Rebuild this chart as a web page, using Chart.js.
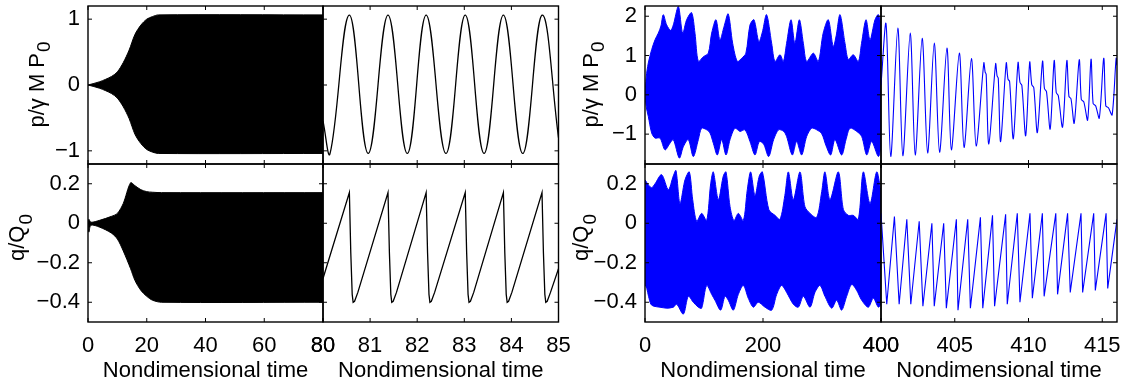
<!DOCTYPE html>
<html>
<head>
<meta charset="utf-8">
<script src="https://cdn.jsdelivr.net/npm/chart.js@4.4.1/dist/chart.umd.min.js"></script>
<style>
  body { margin: 0; background: #fff; }
  #wrap { position: relative; width: 1123px; height: 382px; overflow: hidden; }
  #wrap canvas { position: absolute; left: 0; top: -30px; }
</style>
</head>
<body>
<div id="wrap">
  <canvas id="c1" width="1183" height="412"></canvas>
  <canvas id="c2" width="1183" height="412"></canvas>
  <canvas id="c3" width="1183" height="412"></canvas>
  <canvas id="c4" width="1183" height="412"></canvas>
  <canvas id="c5" width="1183" height="412"></canvas>
  <canvas id="c6" width="1183" height="412"></canvas>
  <canvas id="c7" width="1183" height="412"></canvas>
  <canvas id="c8" width="1183" height="412"></canvas>
</div>
<script>
// --- left figure: envelope of the dense black oscillation, 0..80 ---
const pEnvT = [0, 4, 8, 10, 12, 14, 16, 18, 20, 22, 24, 80];
const pEnvUp = [0, 0.05, 0.13, 0.2, 0.34, 0.53, 0.77, 0.91, 1.0, 1.04, 1.065, 1.065];
const pEnvLo = [0, -0.05, -0.13, -0.2, -0.33, -0.51, -0.75, -0.89, -0.98, -1.02, -1.04, -1.04];

const qEnvT = [0, 0.3, 1, 4, 8, 10, 12, 14.5, 16, 18, 20, 22, 25, 80];
const qEnvUp = [0, 0.02, 0.005, 0.015, 0.035, 0.05, 0.10, 0.205, 0.19, 0.17, 0.16, 0.157, 0.155, 0.155];
const qEnvLo = [0, -0.045, -0.01, -0.02, -0.05, -0.08, -0.14, -0.23, -0.29, -0.34, -0.37, -0.39, -0.40, -0.40];

// --- left figure: zoom 80..85 ---
const pZoomT = [80.00, 80.15, 80.56, 80.96, 81.38, 81.79, 82.19, 82.61, 83.02, 83.42, 83.83, 84.24, 84.65, 85.00];
const pZoomV = [-0.55, -1.04, 1.06, -1.04, 1.06, -1.04, 1.06, -1.04, 1.06, -1.04, 1.06, -1.04, 1.06, -0.80];

const qZoomT = [80.00, 80.56, 80.59, 80.62, 80.64, 80.67, 80.74,
  81.38, 81.41, 81.44, 81.46, 81.49, 81.56,
  82.19, 82.22, 82.25, 82.27, 82.30, 82.37,
  83.02, 83.05, 83.08, 83.10, 83.13, 83.20,
  83.83, 83.86, 83.89, 83.91, 83.94, 84.01,
  84.65, 84.68, 84.71, 84.73, 84.76, 84.83, 85.00];
const qZoomV = [-0.28, 0.155, -0.15, -0.36, -0.40, -0.395, -0.35,
  0.155, -0.15, -0.36, -0.40, -0.395, -0.35,
  0.155, -0.15, -0.36, -0.40, -0.395, -0.35,
  0.155, -0.15, -0.36, -0.40, -0.395, -0.35,
  0.155, -0.15, -0.36, -0.40, -0.395, -0.35,
  0.155, -0.15, -0.36, -0.40, -0.395, -0.35, -0.23];

// --- right figure: envelopes of the dense blue oscillation, 0..400 ---
const bpUpT = [0, 2, 5.6, 11.3, 17, 22.6, 27, 31, 36.7, 43.5, 48, 56.5, 63.8, 70.6, 79, 84.7, 90.4, 98.9, 107.3, 113,
  120.3, 127, 134, 141, 148.6, 156.5, 163.8, 171, 178, 184.7, 193, 199, 206, 214.7, 220.3, 228.8, 234.5, 240, 247.5, 254,
  261.6, 268.4, 274, 285.3, 293.8, 302, 310.7, 319, 324, 330.5, 339, 344.6, 353, 361.6, 367, 374.6, 381.4, 389.8, 395.5, 400];
const bpUpV = [0, 0.45, 0.81, 1.15, 1.40, 1.57, 1.75, 2.04, 1.78, 1.64, 1.78, 2.25, 1.57, 1.91, 2.09, 1.57, 0.85, 0.97, 1.06, 1.57,
  1.91, 1.40, 1.74, 2.06, 1.31, 0.85, 0.93, 1.06, 1.78, 1.91, 1.35, 1.6, 2.04, 1.31, 0.85, 1.02, 0.85, 1.31, 1.91, 1.31,
  1.91, 1.31, 0.85, 1.06, 0.85, 1.57, 1.91, 1.23, 1.5, 2.04, 1.31, 0.90, 1.02, 0.85, 1.31, 1.91, 1.40, 1.91, 2.04, 1.78];
const bpLoT = [0, 2, 5.6, 11.3, 17, 25.4, 33.9, 42.4, 48, 58.2, 65, 73.4, 81.9, 90.4, 96, 104.5, 110.1, 115.8, 122.6, 130,
  137.3, 144.1, 152.5, 161, 169.5, 178, 186.4, 193.8, 201, 209.6, 218, 226.5, 235, 240, 249.7, 257, 265.5, 274, 282.5, 291,
  299.5, 307, 314.7, 322, 333.3, 340.7, 347.5, 358.8, 367.3, 375.8, 384.2, 395.5, 400];
const bpLoV = [0, -0.3, -0.55, -0.97, -1.10, -1.10, -1.40, -1.23, -1.14, -1.61, -1.32, -1.14, -1.57, -1.14, -0.85, -0.89, -0.97, -1.23, -1.53, -1.14,
  -1.53, -1.14, -0.85, -0.93, -0.89, -1.19, -1.53, -1.19, -1.25, -1.57, -1.14, -0.89, -0.93, -1.06, -1.53, -1.19, -1.53, -1.06, -0.85, -0.89,
  -0.99, -1.3, -1.53, -1.14, -1.53, -1.14, -0.85, -0.93, -1.06, -1.53, -1.19, -1.57, -1.32];

const bqUpT = [0, 5.6, 11.3, 17, 28.2, 39.5, 48, 52.5, 59.3, 67.8, 75.1, 80.8, 87.6, 96, 104.5, 111.3, 115.8, 124.3, 132.8, 137.3,
  144.1, 150.8, 158.2, 166.7, 173.4, 179.1, 186.4, 193.8, 199, 210, 220.3, 228.8, 237, 243, 251.4, 262.7, 271, 279.7, 291, 299.5,
  305, 313.6, 327.7, 336.2, 344.6, 353, 361.6, 370, 381.4, 392.7, 400];
const bqUpV = [0.22, 0.195, 0.18, 0.20, 0.246, 0.17, 0.24, 0.267, 0.10, 0.22, 0.26, 0.12, 0.01, 0.05, 0.014, 0.20, 0.26, 0.12, 0.24, 0.26,
  0.085, 0.014, 0.05, 0.014, 0.17, 0.26, 0.14, 0.24, 0.26, 0.068, 0.04, 0.02, 0.14, 0.26, 0.12, 0.26, 0.085, 0.05, 0.03, 0.16,
  0.26, 0.12, 0.26, 0.07, 0.04, 0.04, 0.02, 0.26, 0.10, 0.26, 0.16];
const bqLoT = [0, 3, 6, 10, 15, 25.4, 36.7, 48, 53.7, 65, 73.4, 81.9, 90.4, 96, 104.5, 113, 118.6, 128.2, 135.6, 141.2,
  149.7, 158.2, 166.7, 175.1, 183.6, 192, 203.4, 214.7, 223.2, 231.6, 240, 251.4, 259.9, 268.4, 279.7, 288.1, 296.6, 305, 316.4, 324.9,
  333.3, 341.8, 350.3, 358.8, 367.3, 378.5, 387, 395.5, 400];
const bqLoV = [-0.31, -0.33, -0.37, -0.41, -0.42, -0.425, -0.43, -0.425, -0.41, -0.46, -0.37, -0.40, -0.425, -0.43, -0.315, -0.36, -0.39, -0.44, -0.37, -0.39,
  -0.44, -0.36, -0.315, -0.38, -0.425, -0.40, -0.425, -0.44, -0.36, -0.315, -0.35, -0.41, -0.425, -0.37, -0.425, -0.35, -0.315, -0.37, -0.43, -0.39,
  -0.44, -0.37, -0.31, -0.34, -0.39, -0.425, -0.38, -0.425, -0.41];

// --- right figure: zoom 400..416 (later cycles get a shelf on the way down) ---
const bpZoomT = [400.00, 400.34, 400.66, 401.14, 401.48, 401.98, 402.32, 402.79, 403.16, 403.61, 403.97, 404.47, 404.77, 405.31, 405.63, 406.13, 406.45,
  406.97, 407.06, 407.13, 407.31,
  407.77, 407.87, 407.95, 408.11,
  408.49, 408.61, 408.72, 408.97,
  409.29, 409.42, 409.55, 409.81,
  410.08, 410.22, 410.36, 410.60,
  410.95, 411.08, 411.22, 411.47,
  411.74, 411.88, 412.02, 412.31,
  412.60, 412.74, 412.88, 413.10,
  413.44, 413.58, 413.75, 414.01,
  414.24, 414.38, 414.55, 414.80,
  415.10, 415.24, 415.42, 415.67,
  415.94, 416.00];
const bpZoomV = [0.25, 1.81, -1.57, 1.70, -1.55, 1.57, -1.53, 1.44, -1.48, 1.32, -1.46, 1.19, -1.40, 1.06, -1.34, 0.92, -1.30,
  0.81, 0.58, 0.52, -1.25,
  0.79, 0.48, 0.42, -1.19,
  0.81, 0.40, 0.34, -1.12,
  0.82, 0.32, 0.24, -1.04,
  0.83, 0.26, 0.18, -0.96,
  0.85, 0.16, 0.08, -0.87,
  0.87, 0.06, -0.02, -0.82,
  0.87, -0.04, -0.10, -0.72,
  0.89, -0.12, -0.18, -0.64,
  0.91, -0.22, -0.28, -0.59,
  0.93, -0.28, -0.33, -0.51,
  0.93, 0.75];

const bqZoomT = [400.00, 400.39, 400.91, 401.23, 401.75, 402.02, 402.59, 402.84, 403.45, 403.61, 404.25, 404.43, 405.11, 405.22, 405.88,
  406.06, 406.74, 406.90, 407.56, 407.70, 408.45, 408.56, 409.24, 409.42, 410.10, 410.26, 410.94, 411.06, 411.85, 411.97,
  412.65, 412.83, 413.56, 413.67, 414.42, 414.53, 415.26, 415.37, 416.0];
const bqZoomV = [0.05, -0.41, 0.034, -0.41, 0.02, -0.41, 0.01, -0.42, 0.0, -0.42, 0.0, -0.43, 0.02, -0.44, 0.02,
  -0.43, 0.03, -0.43, 0.04, -0.42, 0.045, -0.41, 0.05, -0.40, 0.05, -0.38, 0.05, -0.37, 0.05, -0.36,
  0.05, -0.35, 0.05, -0.35, 0.05, -0.34, 0.05, -0.33, 0.02];

// tick values
const tickLeftX = [0, 20, 40, 60, 80];
const tickZoomX = [80, 81, 82, 83, 84, 85];
const tickRightX = [0, 200, 400];
const tickRZoomX = [400, 405, 410, 415];
const tickPL = [-1, 0, 1];
const tickPR = [-1, 0, 1, 2];
const tickQ = [-0.4, -0.2, 0, 0.2];

const FONT = "'Liberation Sans', Arial, Helvetica, sans-serif";
const BLUE = '#0000ff';
const OFF = 30;   // canvases start 30px above the page so top labels never squeeze the plot
const CW = 1183;  // canvases are wider than the page for the same reason on the right

function pts(t, v) {
  return t.map((x, i) => ({ x: x, y: v[i] }));
}

// frame + inward ticks on all four sides, like a matlab box
const boxPlugin = {
  id: 'box',
  afterDraw(chart, args, o) {
    const ctx = chart.ctx, a = chart.chartArea;
    const sx = chart.scales.x, sy = chart.scales.y;
    ctx.save();
    ctx.strokeStyle = '#000';
    ctx.lineWidth = 1.4;
    ctx.strokeRect(a.left, a.top, a.right - a.left, a.bottom - a.top);
    ctx.lineWidth = 1;
    ctx.beginPath();
    o.xt.forEach(v => {
      const px = sx.getPixelForValue(v);
      ctx.moveTo(px, a.bottom); ctx.lineTo(px, a.bottom - 4);
      ctx.moveTo(px, a.top); ctx.lineTo(px, a.top + 4);
    });
    o.yt.forEach(v => {
      const py = sy.getPixelForValue(v);
      ctx.moveTo(a.left, py); ctx.lineTo(a.left + 4, py);
      ctx.moveTo(a.right, py); ctx.lineTo(a.right - 4, py);
    });
    ctx.stroke();
    ctx.restore();
  }
};

// rotated y label with a subscript
const ylabPlugin = {
  id: 'ylab',
  afterDraw(chart, args, o) {
    if (!o.main) return;
    const ctx = chart.ctx;
    ctx.save();
    ctx.translate(o.x, o.y + OFF);
    ctx.rotate(-Math.PI / 2);
    ctx.fillStyle = '#000';
    ctx.textBaseline = 'middle';
    ctx.font = '22px ' + FONT;
    const w1 = ctx.measureText(o.main).width;
    ctx.font = '19px ' + FONT;
    const w2 = ctx.measureText(o.sub).width;
    const s = -(w1 + w2) / 2;
    ctx.font = '22px ' + FONT;
    ctx.fillText(o.main, s, 0);
    ctx.font = '19px ' + FONT;
    ctx.fillText(o.sub, s + w1 + 1, o.dy);
    ctx.restore();
  }
};

function fmt(v) {
  return String(v).replace('-', '\u2212');
}

function panel(id, p) {
  const yW = p.yLabels ? 60 : 0;
  const xH = p.xLabels ? 60 : 0;
  const a = p.area;
  new Chart(document.getElementById(id), {
    type: 'line',
    data: { datasets: p.datasets },
    plugins: [boxPlugin, ylabPlugin],
    options: {
      responsive: false,
      animation: false,
      devicePixelRatio: 1,
      events: [],
      layout: { padding: { left: a[0] - yW, top: a[1] + OFF, right: CW - a[2], bottom: 382 - a[3] - xH } },
      elements: { point: { radius: 0 } },
      plugins: {
        legend: { display: false },
        tooltip: { enabled: false },
        box: { xt: p.xt, yt: p.yt },
        ylab: p.ylab || {}
      },
      scales: {
        x: {
          type: 'linear', min: p.xr[0], max: p.xr[1],
          display: !!p.xLabels,
          grid: { display: false, drawTicks: false },
          border: { display: false },
          afterBuildTicks: s => { s.ticks = p.xt.map(v => ({ value: v })); },
          afterFit: s => { s.height = xH; },
          ticks: { autoSkip: false, maxRotation: 0, padding: 11, color: '#000',
                   font: { family: FONT, size: 22 }, callback: v => fmt(v) },
          title: { display: true, text: 'Nondimensional time', color: '#000',
                   font: { family: FONT, size: 22, lineHeight: 1 }, padding: { top: 0, bottom: 0 } }
        },
        y: {
          type: 'linear', min: p.yr[0], max: p.yr[1],
          display: !!p.yLabels,
          grid: { display: false, drawTicks: false },
          border: { display: false },
          afterBuildTicks: s => { s.ticks = p.yt.map(v => ({ value: v })); },
          afterFit: s => { s.width = yW; },
          ticks: { padding: 8, color: '#000', font: { family: FONT, size: 22 }, callback: v => fmt(v) }
        }
      }
    }
  });
}

function band(tu, vu, tl, vl, color) {
  return [
    { data: pts(tu, vu), borderColor: color, backgroundColor: color, borderWidth: 1, fill: '+1', tension: 0.3 },
    { data: pts(tl, vl), borderColor: color, borderWidth: 1, fill: false, tension: 0.3 }
  ];
}

function curve(t, v, color, tension, width) {
  return [{ data: pts(t, v), borderColor: color, borderWidth: width, fill: false, tension: tension }];
}

// left figure
panel('c1', { area: [88, 6, 323, 164], xr: [0, 80], yr: [-1.2, 1.2], xt: tickLeftX, yt: tickPL, yLabels: true,
  ylab: { main: 'p/\u03b3 M P', sub: '0', x: 38, y: 85, dy: 7 },
  datasets: band(pEnvT, pEnvUp, pEnvT, pEnvLo, '#000') });
panel('c2', { area: [323, 6, 558.5, 164], xr: [80, 85], yr: [-1.2, 1.2], xt: tickZoomX, yt: tickPL,
  datasets: curve(pZoomT, pZoomV, '#000', 0.4, 1.3) });
panel('c3', { area: [88, 164, 323, 322], xr: [0, 80], yr: [-0.5, 0.3], xt: tickLeftX, yt: tickQ, yLabels: true, xLabels: true,
  ylab: { main: 'q/Q', sub: '0', x: 18, y: 238, dy: 9 },
  datasets: band(qEnvT, qEnvUp, qEnvT, qEnvLo, '#000') });
panel('c4', { area: [323, 164, 558.5, 322], xr: [80, 85], yr: [-0.5, 0.3], xt: tickZoomX, yt: tickQ, xLabels: true,
  datasets: curve(qZoomT, qZoomV, '#000', 0, 1.3) });

// right figure
panel('c5', { area: [645, 6, 881, 164], xr: [0, 400], yr: [-1.76, 2.26], xt: tickRightX, yt: tickPR, yLabels: true,
  ylab: { main: 'p/\u03b3 M P', sub: '0', x: 592, y: 85, dy: 7 },
  datasets: band(bpUpT, bpUpV, bpLoT, bpLoV, BLUE) });
panel('c6', { area: [881, 6, 1117, 164], xr: [400, 416], yr: [-1.76, 2.26], xt: tickRZoomX, yt: tickPR,
  datasets: curve(bpZoomT, bpZoomV, BLUE, 0.3, 1.1) });
panel('c7', { area: [645, 164, 881, 322], xr: [0, 400], yr: [-0.5, 0.3], xt: tickRightX, yt: tickQ, yLabels: true, xLabels: true,
  ylab: { main: 'q/Q', sub: '0', x: 582, y: 238, dy: 9 },
  datasets: band(bqUpT, bqUpV, bqLoT, bqLoV, BLUE) });
panel('c8', { area: [881, 164, 1117, 322], xr: [400, 416], yr: [-0.5, 0.3], xt: tickRZoomX, yt: tickQ, xLabels: true,
  datasets: curve(bqZoomT, bqZoomV, BLUE, 0, 1.1) });
</script>
</body>
</html>
